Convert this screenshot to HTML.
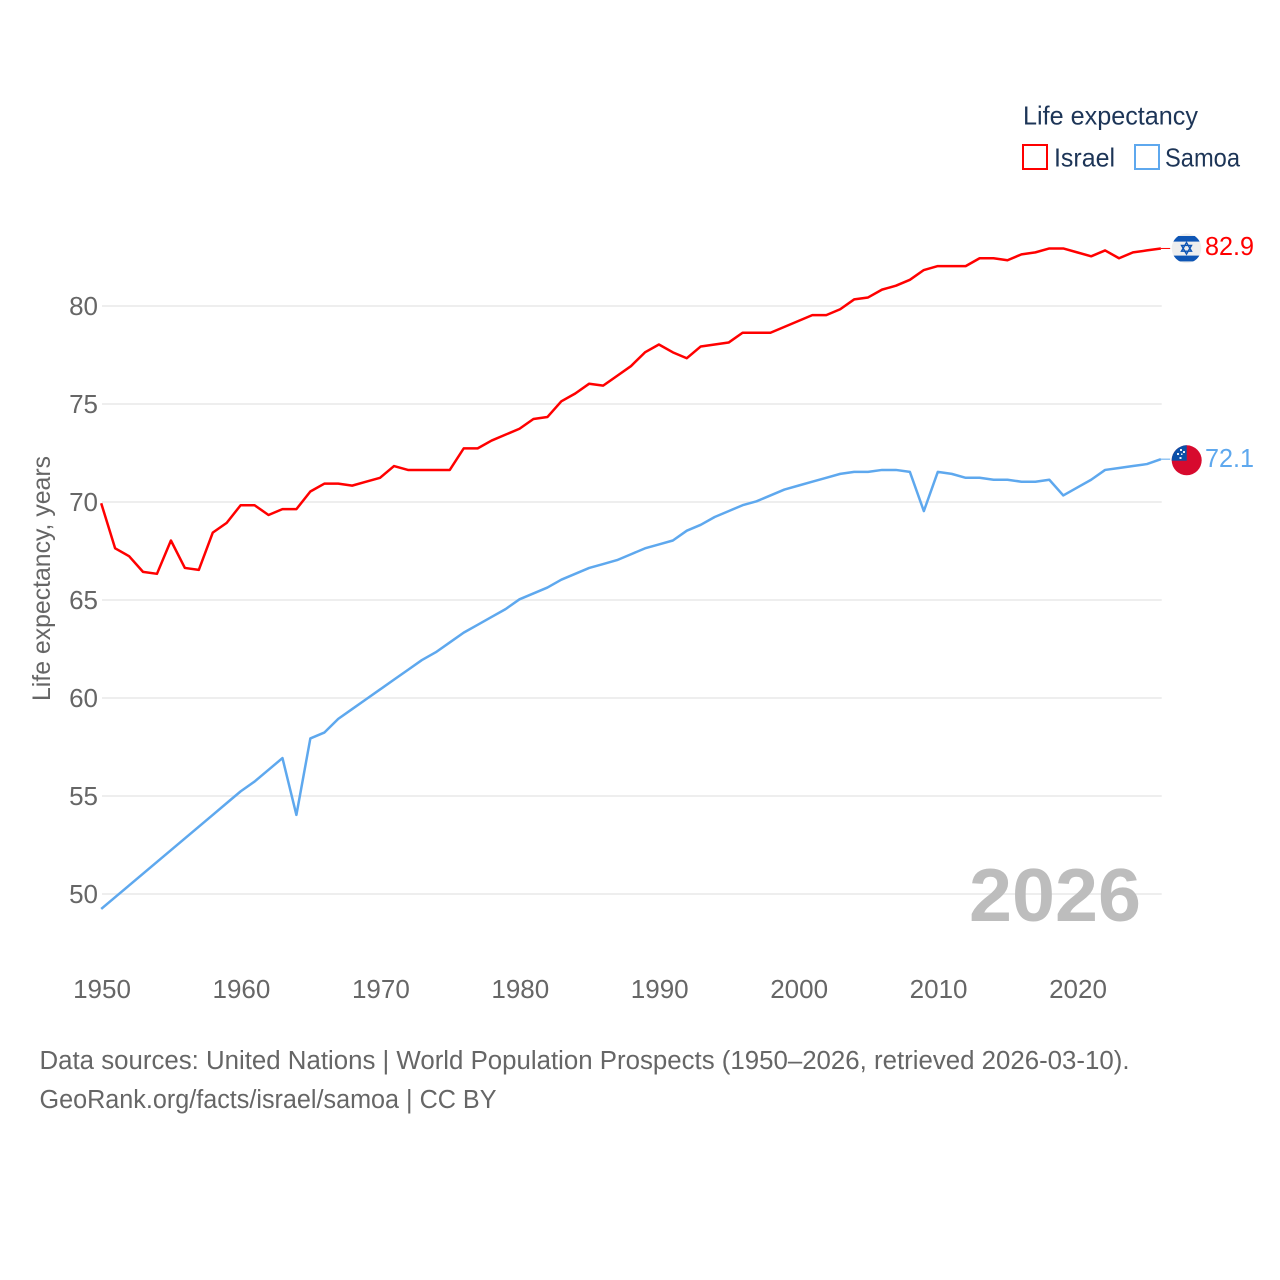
<!DOCTYPE html>
<html lang="en">
<head>
<meta charset="utf-8">
<title>Life expectancy: Israel and Samoa</title>
<style>
html,body{margin:0;padding:0;background:#fff;}
svg{display:block;font-family:"Liberation Sans",sans-serif;}
</style>
</head>
<body>
<svg id="chart" xmlns="http://www.w3.org/2000/svg" width="1280" height="1280" viewBox="0 0 1280 1280">
<defs>
<clipPath id="clip-il"><circle cx="1186.5" cy="248.3" r="14.8"/></clipPath>
<clipPath id="clip-ws"><circle cx="1186.7" cy="460.3" r="15"/></clipPath>
</defs>
<rect width="1280" height="1280" fill="#fff"/>
<g id="grid"></g>
<g id="yticks"></g>
<g id="xticks"></g>
<text transform="translate(50,578.5) rotate(-90)" text-anchor="middle" font-size="25" fill="#666" textLength="245" lengthAdjust="spacingAndGlyphs">Life expectancy, years</text>
<text x="969" y="921" font-size="75" font-weight="700" fill="#bdbdbd" textLength="172" lengthAdjust="spacingAndGlyphs">2026</text>
<g id="series" transform="translate(-0.8,-0.7)"></g>
<g clip-path="url(#clip-il)">
<rect x="1170" y="232" width="34" height="34" fill="#eeeeee"/>
<rect x="1170" y="236" width="34" height="5.6" fill="#0f56b5"/>
<rect x="1170" y="255.6" width="34" height="5.8" fill="#0f56b5"/>
<path d="M1186.5 242.5l5 8.7h-10zM1186.5 254.1l5-8.7h-10z" fill="none" stroke="#0f56b5" stroke-width="1.4"/>
</g>
<g clip-path="url(#clip-ws)">
<rect x="1170" y="444" width="34" height="34" fill="#d70a2e"/>
<rect x="1170" y="444" width="16.7" height="16.7" fill="#0b50a8"/>
<g fill="#e8eef8">
<rect x="1180" y="449" width="2" height="2"/><rect x="1183" y="451" width="2" height="2"/><rect x="1177" y="453" width="2" height="2"/><rect x="1181" y="453.5" width="1.5" height="1.5"/><rect x="1179.5" y="457" width="2" height="2"/>
</g>
</g>
<text id="label-il" x="1205" y="255" font-size="26" fill="#ff0000" textLength="49" lengthAdjust="spacingAndGlyphs"></text>
<text id="label-ws" x="1205" y="467" font-size="26" fill="#5ea8ee" textLength="49" lengthAdjust="spacingAndGlyphs"></text>
<g>
<text x="1023" y="124.5" font-size="26" fill="#1d3557" textLength="175" lengthAdjust="spacingAndGlyphs">Life expectancy</text>
<rect x="1023" y="145" width="24" height="24" fill="none" stroke="#ff0000" stroke-width="2"/>
<text x="1054" y="166.5" font-size="26" fill="#1d3557" textLength="61" lengthAdjust="spacingAndGlyphs">Israel</text>
<rect x="1135" y="145" width="24" height="24" fill="none" stroke="#5ea8ee" stroke-width="2"/>
<text x="1165" y="166.5" font-size="26" fill="#1d3557" textLength="75" lengthAdjust="spacingAndGlyphs">Samoa</text>
</g>
<text x="39.5" y="1069" font-size="25.5" fill="#666" textLength="1090" lengthAdjust="spacingAndGlyphs">Data sources: United Nations | World Population Prospects (1950–2026, retrieved 2026-03-10).</text>
<text x="39.5" y="1108" font-size="25.5" fill="#666" textLength="457" lengthAdjust="spacingAndGlyphs">GeoRank.org/facts/israel/samoa | CC BY</text>
</svg>
<script>
const yearStart = 1950;
const xTickLabels = [1950,1960,1970,1980,1990,2000,2010,2020];
const yTickLabels = [50,55,60,65,70,75,80];
const israelValues = [69.9,67.6,67.2,66.4,66.3,68.0,66.6,66.5,68.4,68.9,
69.8,69.8,69.3,69.6,69.6,70.5,70.9,70.9,70.8,71.0,
71.2,71.8,71.6,71.6,71.6,71.6,72.7,72.7,73.1,73.4,
73.7,74.2,74.3,75.1,75.5,76.0,75.9,76.4,76.9,77.6,
78.0,77.6,77.3,77.9,78.0,78.1,78.6,78.6,78.6,78.9,
79.2,79.5,79.5,79.8,80.3,80.4,80.8,81.0,81.3,81.8,
82.0,82.0,82.0,82.4,82.4,82.3,82.6,82.7,82.9,82.9,
82.7,82.5,82.8,82.4,82.7,82.8,82.9];
const samoaValues = [49.2,49.8,50.4,51.0,51.6,52.2,52.8,53.4,54.0,54.6,
55.2,55.7,56.3,56.9,54.0,57.9,58.2,58.9,59.4,59.9,
60.4,60.9,61.4,61.9,62.3,62.8,63.3,63.7,64.1,64.5,
65.0,65.3,65.6,66.0,66.3,66.6,66.8,67.0,67.3,67.6,
67.8,68.0,68.5,68.8,69.2,69.5,69.8,70.0,70.3,70.6,
70.8,71.0,71.2,71.4,71.5,71.5,71.6,71.6,71.5,69.5,
71.5,71.4,71.2,71.2,71.1,71.1,71.0,71.0,71.1,70.3,
70.7,71.1,71.6,71.7,71.8,71.9,72.15];
const israelLabel = "82.9";
const samoaLabel = "72.1";

const NS = "http://www.w3.org/2000/svg";
function xScale(year){ return 102 + (year - 1950) * 13.943; }
function yScale(v){ return 306 + (80 - v) * 19.6; }
function make(tag, attrs, parent){
  const el = document.createElementNS(NS, tag);
  for (const k in attrs) el.setAttribute(k, attrs[k]);
  parent.appendChild(el);
  return el;
}
const xEnd = xScale(2026);
const gridG = document.getElementById("grid");
const yG = document.getElementById("yticks");
const xG = document.getElementById("xticks");
const seriesG = document.getElementById("series");

yTickLabels.forEach(function(v){
  const line = make("line", {x1:102, x2:xEnd, y1:yScale(v), y2:yScale(v), stroke:"#e8e8e8", "stroke-width":1.5}, gridG);
  
  
  const t = make("text", {x:98, y:yScale(v)+9, "text-anchor":"end", "font-size":26, fill:"#666"}, yG);
  
  
  t.textContent = v;
});
xTickLabels.forEach(function(y){
  const t = make("text", {x:xScale(y), y:998, "text-anchor":"middle", "font-size":26, fill:"#666"}, xG);
  
  
  t.textContent = y;
});
function pathFor(values){
  return values.map(function(v,i){
    return (i ? "L" : "M") + xScale(yearStart + i).toFixed(2) + " " + yScale(v).toFixed(2);
  }).join("");
}
function last(a){ return a[a.length - 1]; }

const israelLine = make("path", {d:pathFor(israelValues), fill:"none", stroke:"#ff0000", "stroke-width":2.5, "stroke-linejoin":"round"}, seriesG);


const samoaLine = make("path", {d:pathFor(samoaValues), fill:"none", stroke:"#5ea8ee", "stroke-width":2.5, "stroke-linejoin":"round"}, seriesG);


const israelConn = make("line", {x1:xEnd, x2:1171, y1:yScale(last(israelValues)), y2:yScale(last(israelValues)), stroke:"#ff0000", "stroke-width":1}, seriesG);


const samoaConn = make("line", {x1:xEnd, x2:1171, y1:yScale(last(samoaValues)), y2:yScale(last(samoaValues)), stroke:"#5ea8ee", "stroke-width":1}, seriesG);


document.getElementById("label-il").textContent = israelLabel;
document.getElementById("label-ws").textContent = samoaLabel;
</script>
</body>
</html>
